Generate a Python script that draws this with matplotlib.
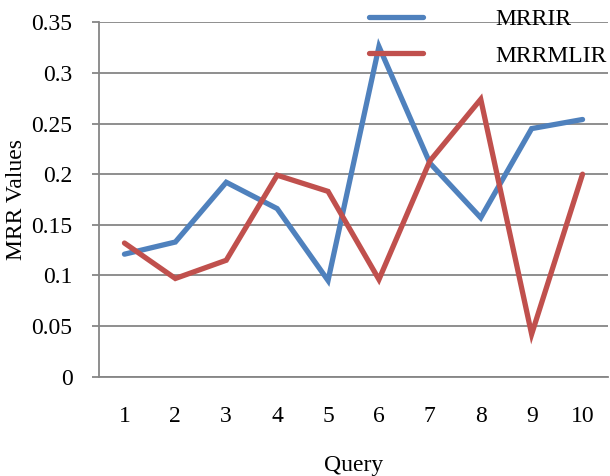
import matplotlib.pyplot as plt
from matplotlib.ticker import MultipleLocator, FuncFormatter

plt.rcParams['font.family'] = ['Liberation Serif', 'DejaVu Serif']

queries = [1, 2, 3, 4, 5, 6, 7, 8, 9, 10]
mrrir = [0.121, 0.133, 0.192, 0.166, 0.095, 0.326, 0.211, 0.157, 0.245, 0.254]
mrrmlir = [0.132, 0.097, 0.115, 0.199, 0.183, 0.096, 0.213, 0.274, 0.042, 0.200]

grid_col = '#868686'
fs = 17

fig = plt.figure(figsize=(6.1, 4.76), dpi=100)
ax = fig.add_axes([0.1623, 0.2086, 0.8344, 0.7446])

ax.plot(queries, mrrir, color='#4F81BD', lw=3.8, solid_capstyle='round',
        solid_joinstyle='miter', label='MRRIR', zorder=3)
ax.plot(queries, mrrmlir, color='#C0504D', lw=3.8, solid_capstyle='round',
        solid_joinstyle='miter', label='MRRMLIR', zorder=3)

ax.set_xlim(0.5, 10.5)
ax.set_ylim(0, 0.35)
ax.set_xticks(queries)
ax.yaxis.set_major_locator(MultipleLocator(0.05))
ax.yaxis.set_major_formatter(FuncFormatter(lambda v, p: '0' if v == 0 else f'{v:.2f}'.rstrip('0')))

ax.grid(axis='y', color=grid_col, lw=1.3)
ax.set_axisbelow(True)
for side in ['top', 'right']:
    ax.spines[side].set_visible(False)
for side in ['left', 'bottom']:
    ax.spines[side].set_color(grid_col)
    ax.spines[side].set_linewidth(1.3)

ax.tick_params(axis='y', length=5, width=1.3, color=grid_col, pad=14, labelsize=fs)
ax.tick_params(axis='x', length=0, pad=21, labelsize=fs)

ax.set_xlabel('Query', fontsize=fs, labelpad=20)
ax.set_ylabel('MRR Values', fontsize=fs, labelpad=3)

leg = ax.legend(loc='upper left', bbox_to_anchor=(0.53, 1.038), frameon=False,
                fontsize=fs, handlelength=2.3, handletextpad=3.05, labelspacing=0.63,
                borderaxespad=0, borderpad=0)

fig.savefig('out.png', dpi=100)
